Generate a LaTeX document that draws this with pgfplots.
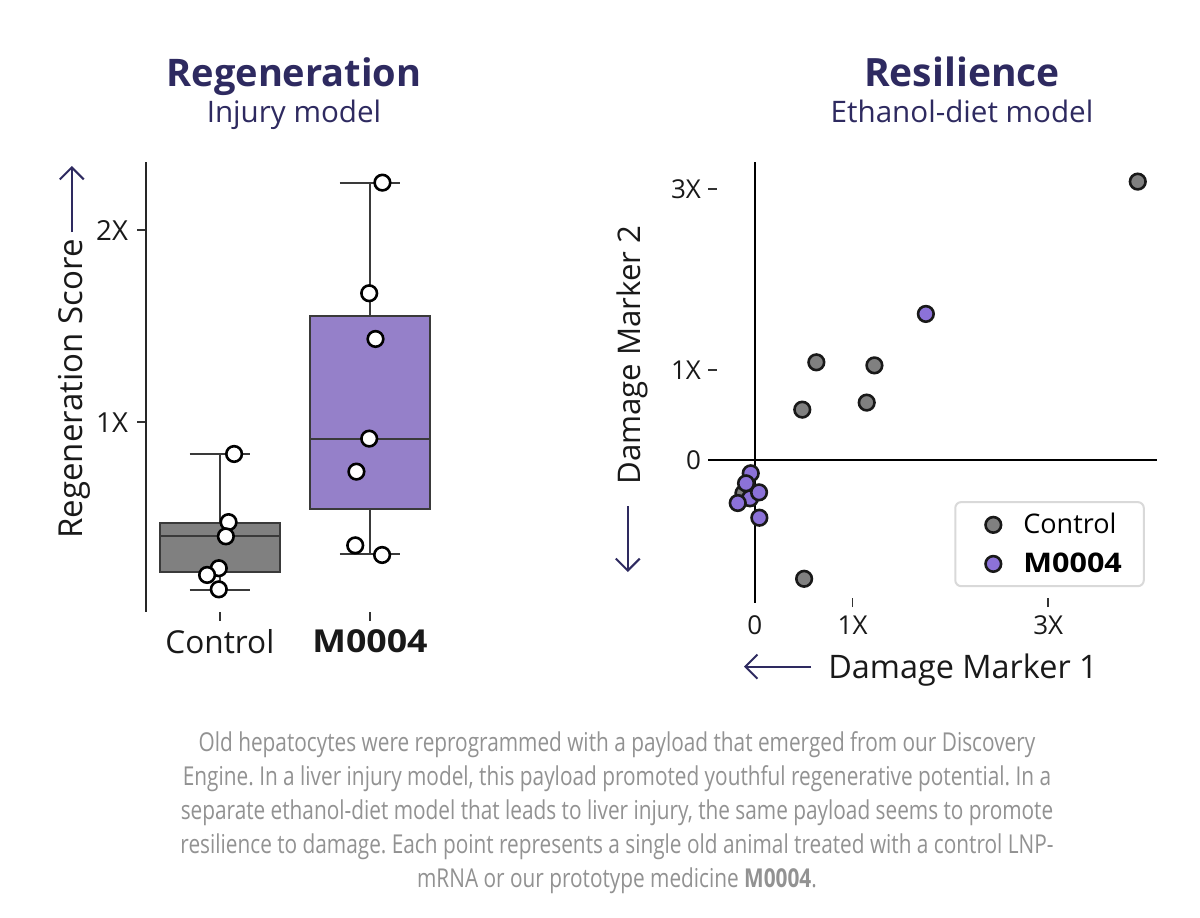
\documentclass[border=0pt]{standalone}
\usepackage{pgfplots}
\pgfplotsset{compat=1.18}
\usepgfplotslibrary{statistics}
\usetikzlibrary{arrows.meta}
\usepackage{fontspec}
\setmainfont{Open Sans}
\newfontfamily\capfont[FakeStretch=0.8]{Open Sans}
\definecolor{navy}{HTML}{2E2A60}
\definecolor{ctrlgray}{HTML}{808080}
\definecolor{boxpurple}{HTML}{9580C9}
\definecolor{ptpurple}{HTML}{8C72D8}
\definecolor{edge}{HTML}{3A3A3A}
\definecolor{capgray}{HTML}{929292}
\newcommand{\wide}[1]{\scalebox{1.13}[1]{#1}}
\pgfplotsset{myimg/.style={legend image code/.code={\path[draw=none,fill=none] (-1.5pt,0pt) -- (0.6cm,0pt);
    \draw[##1,draw=none] plot coordinates {(0.3cm,0cm)};}}}
\begin{document}
\frenchspacing
\begin{tikzpicture}
\useasboundingbox (0,0) rectangle (600pt,-458.5pt);
\fill[white] (0,0) rectangle (600pt,-458.5pt);

% ---------------- Left: boxplot ----------------
\begin{axis}[
  at={(73pt,-305.85pt)}, anchor=south west,
  scale only axis, width=149.5pt, height=225pt,
  xmin=-0.492, xmax=1.5, ymin=0.0135, ymax=2.357,
  boxplot/draw direction=y,
  axis y line*=left, axis x line*=bottom,
  x axis line style={draw=none},
  y axis line style={line width=1pt, color=black!85},
  xtick={0,1}, xticklabels={Control,\textbf{\wide{M0004}}},
  ytick={1,2}, yticklabels={1X,2X},
  tick align=outside, major tick length=4.5pt,
  tick style={line width=0.8pt, color=black!80},
  xticklabel style={font=\fontsize{15.8}{15.8}\selectfont, text=black!90, yshift=-1pt},
  yticklabel style={font=\fontsize{13.8}{13.8}\selectfont, text=black!90, xshift=-1pt},
  clip=false,
]
\addplot[boxplot prepared={median=0.406, upper quartile=0.477, lower quartile=0.222,
  upper whisker=0.835, lower whisker=0.127, draw position=0, box extend=0.8, whisker extend=0.4},
  draw=edge, line width=0.9pt, fill=ctrlgray] coordinates {};
\addplot[boxplot prepared={median=0.915, upper quartile=1.555, lower quartile=0.55,
  upper whisker=2.248, lower whisker=0.3125, draw position=1, box extend=0.8, whisker extend=0.4},
  draw=edge, line width=0.9pt, fill=boxpurple] coordinates {};
\addplot[only marks, mark=*, mark size=3.9pt, mark options={fill=white, draw=black, line width=1.3pt}]
  coordinates {(0.095,0.835) (0.058,0.480) (0.040,0.406) (-0.007,0.240) (-0.085,0.205) (-0.007,0.130)};
\addplot[only marks, mark=*, mark size=3.9pt, mark options={fill=white, draw=black, line width=1.3pt}]
  coordinates {(1.083,2.248) (0.995,1.672) (1.037,1.434) (0.995,0.915) (0.910,0.743) (0.902,0.359) (1.081,0.309)};
\end{axis}

% ---------------- Right: scatter ----------------
\begin{axis}[
  at={(354pt,-301.3pt)}, anchor=south west,
  scale only axis, width=224.7pt, height=220.3pt,
  xmin=-0.479, xmax=4.117, ymin=-1.577, ymax=3.302,
  axis line style={draw=none},
  xtick={1,3}, xticklabels={1X,3X},
  ytick={1,3}, yticklabels={1X,3X},
  extra x ticks={0}, extra x tick labels={0},
  extra y ticks={0}, extra y tick labels={0},
  extra tick style={tick style={draw=none}},
  xtick pos=bottom, ytick pos=left,
  tick align=inside, major tick length=4.5pt,
  tick style={line width=0.8pt, color=black!80},
  x tick style={yshift=-2.25pt},
  ticklabel style={font=\fontsize{13}{13}\selectfont, text=black!90},
  xticklabel style={yshift=-3pt},
  clip=false,
  legend style={at={(0.972,0.035)}, anchor=south east, draw=black!15, line width=1pt,
    rounded corners=3pt, font=\fontsize{13.5}{13.5}\selectfont, row sep=4pt,
    inner xsep=9pt, inner ysep=3.5pt, cells={anchor=west}},
]
\draw[line width=1pt, black] (axis cs:0,-1.577) -- (axis cs:0,3.302);
\draw[line width=1pt, black] (axis cs:-0.479,0) -- (axis cs:4.117,0);
\addplot[only marks, mark=*, mark size=3.9pt, mark options={fill=ctrlgray, draw=black!90, line width=1.3pt}, myimg]
  coordinates {(3.916,3.085) (0.629,1.084) (1.223,1.050) (0.485,0.560) (1.144,0.638) (0.504,-1.313) (-0.117,-0.367)};
\addlegendentry{\hspace{4.5pt}Control}
\addplot[only marks, mark=*, mark size=3.9pt, mark options={fill=ptpurple, draw=black!90, line width=1.3pt}, myimg]
  coordinates {(1.749,1.620) (-0.049,-0.422) (-0.042,-0.145) (-0.090,-0.256) (0.043,-0.356) (-0.175,-0.474) (0.046,-0.637)};
\addlegendentry{\hspace{4.5pt}\textbf{\wide{M0004}}}
\end{axis}

% ---------------- Titles ----------------
\node[anchor=base, text=navy, font=\bfseries\fontsize{19}{19}\selectfont] at (147pt,-43pt) {Regeneration};
\node[anchor=base, text=navy, font=\fontsize{14.8}{14.8}\selectfont] at (147pt,-61pt) {Injury model};
\node[anchor=base, text=navy, font=\bfseries\fontsize{19.5}{19.5}\selectfont] at (481pt,-43pt) {Resilience};
\node[anchor=base, text=navy, font=\fontsize{14.8}{14.8}\selectfont] at (481pt,-61pt) {Ethanol-diet model};

% ---------------- Axis labels and arrows ----------------
\node[anchor=base, rotate=90, text=black!90, font=\fontsize{16.5}{16.5}\selectfont] at (41pt,-194.5pt) {Regeneration Score};
\draw[navy, line width=1pt, -{Straight Barb[length=6pt,width=12pt]}] (35.9pt,-116pt) -- (35.9pt,-83pt);
\node[anchor=base, rotate=90, text=black!90, font=\fontsize{15.6}{15.6}\selectfont] at (320.4pt,-177.5pt) {Damage Marker 2};
\draw[navy, line width=1pt, -{Straight Barb[length=6pt,width=12pt]}] (313.9pt,-253pt) -- (313.9pt,-286pt);
\node[anchor=base, text=black!90, font=\fontsize{16.2}{16.2}\selectfont] at (481.5pt,-339pt) {Damage Marker 1};
\draw[navy, line width=1pt, -{Straight Barb[length=6pt,width=12pt]}] (405.5pt,-333.3pt) -- (372pt,-333.3pt);

% ---------------- Caption ----------------
\node[align=center, text=capgray, font=\capfont\fontsize{13}{17}\selectfont] at (308.5pt,-406.5pt)
{Old hepatocytes were reprogrammed with a payload that emerged from our Discovery\\
Engine. In a liver injury model, this payload promoted youthful regenerative potential. In a\\
separate ethanol-diet model that leads to liver injury, the same payload seems to promote\\
resilience to damage. Each point represents a single old animal treated with a control LNP-\\
mRNA or our prototype medicine \textbf{M0004}.};
\end{tikzpicture}
\end{document}
